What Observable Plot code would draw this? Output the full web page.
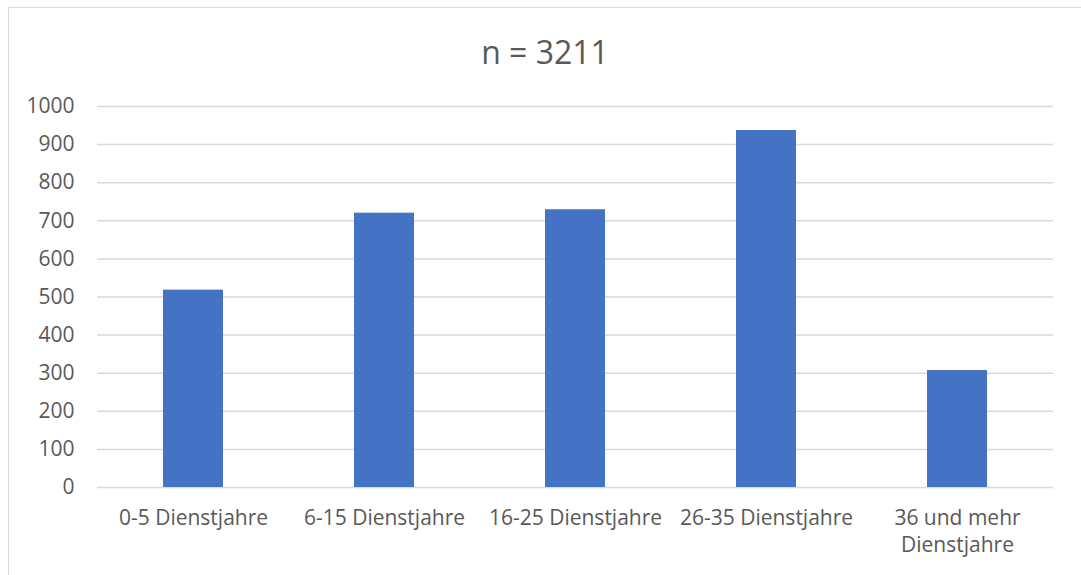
<!DOCTYPE html>
<html>
<head>
<meta charset="utf-8">
<script src="https://cdn.jsdelivr.net/npm/d3@7"></script>
<script src="https://cdn.jsdelivr.net/npm/@observablehq/plot@0.6"></script>
<style>
  html, body { margin: 0; padding: 0; background: #fff; }
  #wrap { position: relative; width: 1081px; height: 575px; overflow: hidden; }
  #border { position: absolute; left: 8px; top: 7px; right: -10px; bottom: -10px;
            border-left: 1.5px solid #d9d9d9; border-top: 1.5px solid #d9d9d9; }
  #chart { position: absolute; left: 0; top: 0; }
  svg { font-family: "Open Sans", sans-serif; }
</style>
</head>
<body>
<div id="wrap"><div id="border"></div><div id="chart"></div></div>
<script>
const categories = ["0-5 Dienstjahre", "6-15 Dienstjahre", "16-25 Dienstjahre", "26-35 Dienstjahre", "36 und mehr\nDienstjahre"];
const values = [518, 720, 729, 937, 307];
const yTicks = [0, 100, 200, 300, 400, 500, 600, 700, 800, 900, 1000];
const title = "n = 3211";

const data = categories.map((c, i) => ({category: c, value: values[i]}));

const chart = Plot.plot({
  width: 1081,
  height: 575,
  marginLeft: 97,
  marginRight: 28,
  marginTop: 106,
  marginBottom: 88,
  style: {fontFamily: "'Open Sans', sans-serif", fontSize: "21px", color: "#595959", background: "transparent"},
  x: {domain: categories, paddingInner: 0.686, paddingOuter: 0.343, label: null},
  y: {domain: [0, 1000], label: null},
  marks: [
    Plot.ruleY(yTicks, {stroke: "#d9d9d9", strokeWidth: 1.5}),
    Plot.barY(data, {x: "category", y: "value", fill: "#4472c4"}),
    Plot.axisY({ticks: yTicks, tickFormat: d => String(d), tickSize: 0, tickPadding: 23, label: null, fontSize: 21, fill: "#595959"}),
    Plot.axisX({tickSize: 0, tickPadding: 18, label: null, fontSize: 21, fill: "#595959", lineHeight: 1.3}),
    Plot.text([title], {text: d => d, frameAnchor: "top", dx: -30.5, dy: -53, lineAnchor: "middle", fontSize: 32, fill: "#595959"})
  ]
});
document.getElementById("chart").appendChild(chart);
</script>
</body>
</html>
